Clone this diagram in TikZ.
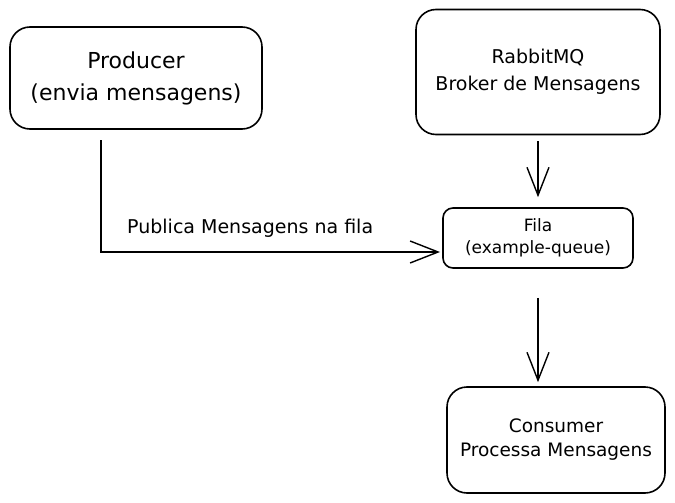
\documentclass[tikz,border=0pt]{standalone}
\usepackage{fontspec}
\setmainfont{DejaVu Sans}
\usetikzlibrary{arrows.meta}

\begin{document}
\begin{tikzpicture}[x=1pt,y=-1pt,
		box/.style={draw, line width=1.6pt, rounded corners=20pt, align=center, inner sep=0pt},
		arr/.style={line width=1.4pt, -{Straight Barb[length=28pt,width=22pt,line width=1.4pt]}}]
		\useasboundingbox (0,0) rectangle (675,503);
		\node[box, minimum width=252pt, minimum height=102pt, font=\fontsize{22}{32}\selectfont] (prod) at (136,78) {Producer\\(envia mensagens)};
		\node[box, minimum width=244pt, minimum height=125pt, font=\fontsize{19}{27}\selectfont] (rabbit) at (538,72) {RabbitMQ\\Broker de Mensagens};
		\node[box, rounded corners=10pt, minimum width=190pt, minimum height=60pt, font=\fontsize{17}{22}\selectfont] (fila) at (538,238) {Fila\\(example-queue)};
		\node[box, minimum width=218pt, minimum height=106pt, font=\fontsize{18.5}{24}\selectfont] (cons) at (556,440) {Consumer\\Processa Mensagens};
		\coordinate (p0) at (101,140);
		\coordinate (f0) at (440,252);
		\draw[arr] (p0) |- (f0) node[pos=0.72, above=11pt, font=\fontsize{19}{20}\selectfont] (pub) {Publica Mensagens na fila};
		\draw[arr, shorten <=6pt, shorten >=10pt] (rabbit.south) -- (fila.north);
		\draw[arr, shorten <=29pt, shorten >=4pt] (fila.south) -- (fila.south |- cons.north);
	\end{tikzpicture}
\end{document}
